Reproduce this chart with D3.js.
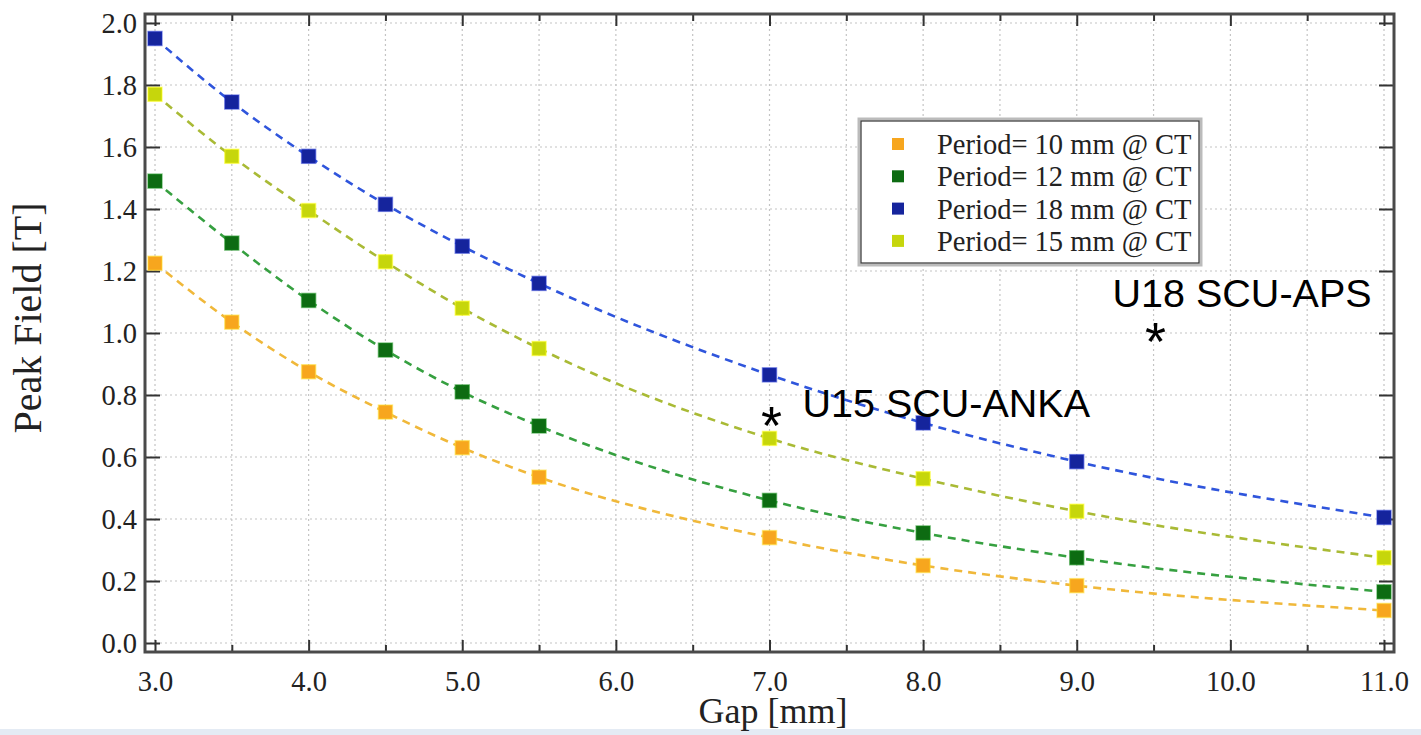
<!DOCTYPE html>
<html>
<head>
<meta charset="utf-8">
<script src="https://d3js.org/d3.v7.min.js"></script>
<style>
  html, body { margin: 0; padding: 0; background: #ffffff; }
  svg { display: block; }
</style>
</head>
<body>
<svg id="chart" width="1421" height="735"></svg>
<script>
// ---------------- data ----------------
const gaps = [3.0, 3.5, 4.0, 4.5, 5.0, 5.5, 7.0, 8.0, 9.0, 11.0];
const period10 = [1.225, 1.035, 0.875, 0.745, 0.63, 0.535, 0.34, 0.25, 0.185, 0.105];
const period12 = [1.49, 1.29, 1.105, 0.945, 0.81, 0.70, 0.46, 0.355, 0.275, 0.165];
const period18 = [1.95, 1.745, 1.57, 1.415, 1.28, 1.16, 0.865, 0.71, 0.585, 0.405];
const period15 = [1.77, 1.57, 1.395, 1.23, 1.08, 0.95, 0.66, 0.53, 0.425, 0.275];
const seriesNames = ["Period= 10 mm @ CT", "Period= 12 mm @ CT", "Period= 18 mm @ CT", "Period= 15 mm @ CT"];
const xTickValues = [3, 4, 5, 6, 7, 8, 9, 10, 11];
const xMinorTickValues = [3.5, 4.5, 5.5, 6.5, 7.5, 8.5, 9.5, 10.5];
const yTickValues = [0, 0.2, 0.4, 0.6, 0.8, 1.0, 1.2, 1.4, 1.6, 1.8, 2.0];
const annotationNames = ["U15 SCU-ANKA", "U18 SCU-APS"];
const annotationGap = [7.0, 9.5];
const annotationField = [0.73, 1.0];

// ---------------- styles ----------------
const markerColors = ["#f7a61e", "#0d6b12", "#15249c", "#c6d60c"];
const lineColors = ["#f0b83a", "#36a040", "#2f55dc", "#a9ba35"];
const drawOrder = [0, 1, 3, 2];
const allSeries = [period10, period12, period18, period15];

const svg = d3.select("#chart");
const W = 1421, H = 735;
const frame = { left: 145, right: 1394, top: 14, bottom: 652 };

const x = d3.scaleLinear().domain([2.9349, 11.0651]).range([frame.left, frame.right]);
const y = d3.scaleLinear().domain([-0.029, 2.029]).range([frame.bottom, frame.top]);

// bottom band
svg.append("rect").attr("x", 0).attr("y", 729).attr("width", W).attr("height", 6).attr("fill", "#e4ebf4");

// grid
const grid = svg.append("g");
grid.selectAll("line.vg").data(xTickValues.concat(xMinorTickValues)).join("line")
  .attr("x1", d => x(d)).attr("x2", d => x(d))
  .attr("y1", frame.top).attr("y2", frame.bottom)
  .attr("stroke", "#c4c4c4").attr("stroke-width", 1.2).attr("stroke-dasharray", "2,3");
grid.selectAll("line.hg").data(yTickValues).join("line")
  .attr("x1", frame.left).attr("x2", frame.right)
  .attr("y1", d => y(d)).attr("y2", d => y(d))
  .attr("stroke", "#c4c4c4").attr("stroke-width", 1.2).attr("stroke-dasharray", "2,3");

// axes (ticks inward)
const tickFont = "'Liberation Serif', 'Times New Roman', serif";
const xAxisBottom = d3.axisBottom(x).tickValues(xTickValues).tickSize(-12).tickPadding(19).tickFormat(d3.format(".1f"));
const gxb = svg.append("g").attr("transform", `translate(0,${frame.bottom})`).call(xAxisBottom);
const gxbm = svg.append("g").attr("transform", `translate(0,${frame.bottom})`)
  .call(d3.axisBottom(x).tickValues(xMinorTickValues).tickSize(-7).tickFormat(""));
const gxt = svg.append("g").attr("transform", `translate(0,${frame.top})`)
  .call(d3.axisTop(x).tickValues(xTickValues).tickSize(-12).tickFormat(""));
const gxtm = svg.append("g").attr("transform", `translate(0,${frame.top})`)
  .call(d3.axisTop(x).tickValues(xMinorTickValues).tickSize(-7).tickFormat(""));
const gyl = svg.append("g").attr("transform", `translate(${frame.left},0)`)
  .call(d3.axisLeft(y).tickValues(yTickValues).tickSize(-15).tickPadding(8).tickFormat(d3.format(".1f")));
const gyr = svg.append("g").attr("transform", `translate(${frame.right},0)`)
  .call(d3.axisRight(y).tickValues(yTickValues).tickSize(-15).tickFormat(""));

[gxb, gxbm, gxt, gxtm, gyl, gyr].forEach(g => {
  g.select(".domain").remove();
  g.selectAll(".tick line").attr("stroke", "#333").attr("stroke-width", 2);
  g.selectAll(".tick text").attr("fill", "#222").attr("font-family", tickFont).attr("font-size", 28.5);
});
gxb.selectAll(".tick text").attr("dy", "0.71em");
gyl.selectAll(".tick text").attr("dy", "0.35em");

// frame
svg.append("rect")
  .attr("x", frame.left).attr("y", frame.top)
  .attr("width", frame.right - frame.left).attr("height", frame.bottom - frame.top)
  .attr("fill", "none").attr("stroke", "#4a4a4a").attr("stroke-width", 3);

// curves
const line = d3.line().x((d, i) => x(gaps[i])).y(d => y(d)).curve(d3.curveMonotoneX);
drawOrder.forEach(si => {
  svg.append("path").datum(allSeries[si])
    .attr("d", line).attr("fill", "none")
    .attr("stroke", lineColors[si]).attr("stroke-width", 2.6)
    .attr("stroke-dasharray", "8,6");
});

// markers
const ms = 14;
drawOrder.forEach(si => {
  svg.append("g").selectAll("rect").data(allSeries[si]).join("rect")
    .attr("x", (d, i) => x(gaps[i]) - ms / 2)
    .attr("y", d => y(d) - ms / 2)
    .attr("width", ms).attr("height", ms)
    .attr("fill", markerColors[si])
    .attr("stroke", d3.color(markerColors[si]).brighter(0.8)).attr("stroke-opacity", 0.5).attr("stroke-width", 1.5);
});

// legend
const lg = svg.append("g");
lg.append("rect").attr("x", 859).attr("y", 119).attr("width", 342).attr("height", 146)
  .attr("fill", "#fff").attr("stroke", "#bbb").attr("stroke-width", 3);
lg.append("rect").attr("x", 861).attr("y", 121).attr("width", 338).attr("height", 142)
  .attr("fill", "#fff").attr("stroke", "#333").attr("stroke-width", 1.2);
seriesNames.forEach((name, i) => {
  const cy = 144 + i * 32.3;
  lg.append("rect").attr("x", 892).attr("y", cy - 6).attr("width", 12).attr("height", 12)
    .attr("fill", markerColors[i]);
  lg.append("text").attr("x", 937).attr("y", cy).attr("dy", "0.35em")
    .attr("font-family", tickFont).attr("font-size", 28.5).attr("fill", "#222").text(name);
});

// annotations
const annFont = "'Liberation Sans', Arial, sans-serif";
const labelOffsets = [[33, 0], [-41, -26]];
annotationNames.forEach((name, i) => {
  const px = x(annotationGap[i]), py = y(annotationField[i]);
  svg.append("text").attr("x", px + 2).attr("y", py + 27).attr("text-anchor", "middle")
    .attr("font-family", annFont).attr("font-size", 54).attr("fill", "#000").text("*");
  svg.append("text").attr("x", px + labelOffsets[i][0]).attr("y", py + labelOffsets[i][1])
    .attr("font-family", annFont).attr("font-size", 39.5).attr("fill", "#000").text(name);
});

// axis titles
svg.append("text").attr("x", 773).attr("y", 723).attr("text-anchor", "middle")
  .attr("font-family", tickFont).attr("font-size", 36).attr("fill", "#222").text("Gap [mm]");
svg.append("text").attr("transform", "translate(41,318) rotate(-90)").attr("text-anchor", "middle")
  .attr("font-family", tickFont).attr("font-size", 40).attr("fill", "#222").text("Peak Field [T]");
</script>
</body>
</html>
